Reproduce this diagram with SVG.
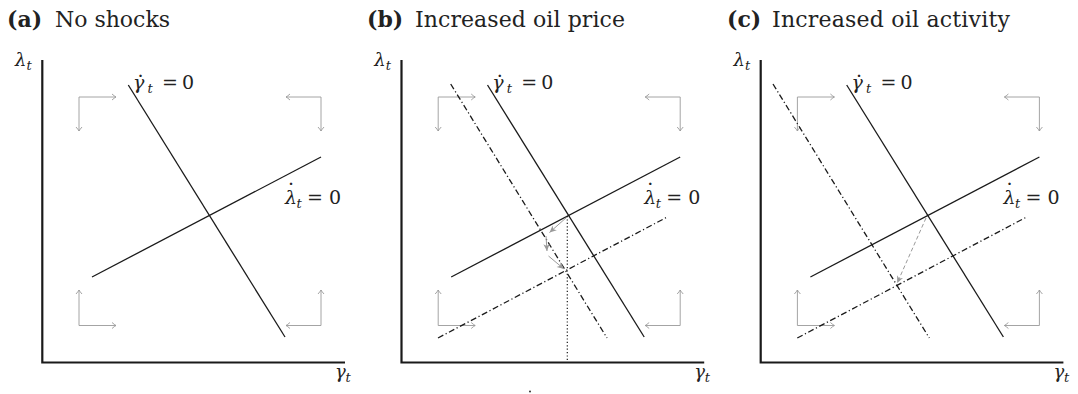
<svg xmlns="http://www.w3.org/2000/svg" width="1078" height="394" viewBox="0 0 1078 394">
<style>
text{fill:#222}
.title{font-size:22px}
.bold{font-weight:bold}
.m{font-size:19px}
.mi{font-size:19px;font-style:italic}
.sub{font-size:13px;font-style:italic}
.ax{font-size:18px;font-style:italic}
.axis{fill:none;stroke:#1a1a1a;stroke-width:2.2}
.curve{fill:none;stroke:#1a1a1a;stroke-width:1.3}
.dd{fill:none;stroke:#1a1a1a;stroke-width:1.3;stroke-dasharray:6 2.6 1.2 2.6}
.dot{fill:none;stroke:#1a1a1a;stroke-width:1.2;stroke-dasharray:1.2 2.2}
.ga{fill:none;stroke:#9a9a9a;stroke-width:0.9;marker-end:url(#to)}
.tr{fill:none;stroke:#9a9a9a;stroke-width:1;marker-end:url(#stealth)}
.trd{fill:none;stroke:#9a9a9a;stroke-width:1;stroke-dasharray:4 2.5;marker-end:url(#stealth)}
</style>
<defs>
<marker id="to" viewBox="-5 -4 6 8" refX="0" refY="0" markerWidth="6" markerHeight="8" orient="auto" markerUnits="userSpaceOnUse">
<path d="M-4,-3 Q-1.5,-0.8 0,0 Q-1.5,0.8 -4,3" fill="none" stroke="#9a9a9a" stroke-width="0.9"/>
</marker>
<marker id="stealth" viewBox="-8 -4 9 8" refX="0" refY="0" markerWidth="9" markerHeight="8" orient="auto" markerUnits="userSpaceOnUse">
<path d="M0,0 L-7,-3.2 L-5,0 L-7,3.2 Z" fill="#9a9a9a"/>
</marker>
<g id="base">
<polyline class="axis" points="42.3,60 42.3,362.5 345,362.5"/>
<line class="ga" x1="79" y1="97" x2="116" y2="97"/>
<line class="ga" x1="79" y1="97" x2="79" y2="131"/>
<line class="ga" x1="321" y1="97" x2="286" y2="97"/>
<line class="ga" x1="321" y1="97" x2="321" y2="131"/>
<line class="ga" x1="79" y1="325.5" x2="79" y2="290"/>
<line class="ga" x1="79" y1="325.5" x2="116" y2="325.5"/>
<line class="ga" x1="321" y1="325.5" x2="321" y2="290"/>
<line class="ga" x1="321" y1="325.5" x2="286" y2="325.5"/>
<line class="curve" x1="128.3" y1="85" x2="285" y2="337"/>
<line class="curve" x1="92" y1="277" x2="321" y2="157"/>
<text class="ax" x="15" y="66" font-family="DejaVu Serif, serif">λ</text><text class="sub" x="26.5" y="70" font-family="DejaVu Serif, serif">t</text>
<text class="ax" x="335" y="378" font-family="DejaVu Serif, serif">γ</text><text class="sub" x="345.5" y="382" font-family="DejaVu Serif, serif">t</text>
<text class="mi" x="133" y="89" font-family="DejaVu Serif, serif">γ</text><text class="m" x="137.5" y="77" font-family="DejaVu Serif, serif">.</text><text class="sub" x="147.5" y="93" font-family="DejaVu Serif, serif">t</text>
<text class="m" x="162" y="89" font-family="DejaVu Serif, serif">=</text><text class="m" x="182" y="89" font-family="DejaVu Serif, serif">0</text>
<text class="mi" x="285" y="204" font-family="DejaVu Serif, serif">λ</text><text class="m" x="288" y="185" font-family="DejaVu Serif, serif">.</text><text class="sub" x="296.5" y="208" font-family="DejaVu Serif, serif">t</text>
<text class="m" x="307" y="204" font-family="DejaVu Serif, serif">=</text><text class="m" x="329" y="204" font-family="DejaVu Serif, serif">0</text>
</g>
</defs>

<g id="panel-a">
<text class="title bold" x="7" y="27" font-family="DejaVu Serif, serif">(a)</text>
<text class="title" x="55" y="27" textLength="115" lengthAdjust="spacing" font-family="DejaVu Serif, serif">No shocks</text>
<use href="#base"/>
</g>

<g id="panel-b" transform="translate(359.2,0)">
<text class="title bold" x="7.8" y="27" font-family="DejaVu Serif, serif">(b)</text>
<text class="title" x="55.8" y="27" textLength="210" lengthAdjust="spacing" font-family="DejaVu Serif, serif">Increased oil price</text>
<use href="#base"/>
<g id="connectors-b">
<line class="dd" x1="91.5" y1="84" x2="247.8" y2="338"/>
<line class="dd" x1="78.8" y1="338" x2="308.1" y2="217"/>
<line class="dot" x1="208.1" y1="216" x2="208.1" y2="362"/>
<line class="tr" x1="207.8" y1="217" x2="190.3" y2="232.5"/>
<line class="tr" x1="186.8" y1="236" x2="187.8" y2="251"/>
<line class="tr" x1="189.3" y1="256" x2="204.8" y2="269"/>
</g>
<circle cx="170.8" cy="391.5" r="0.9" fill="#1a1a1a"/>
</g>

<g id="panel-c" transform="translate(718.4,0)">
<text class="title bold" x="8.6" y="27" font-family="DejaVu Serif, serif">(c)</text>
<text class="title" x="53.6" y="27" textLength="238" lengthAdjust="spacing" font-family="DejaVu Serif, serif">Increased oil activity</text>
<use href="#base"/>
<g id="connectors-c">
<line class="dd" x1="54.6" y1="84" x2="210.9" y2="338"/>
<line class="dd" x1="78.9" y1="338" x2="308.3" y2="217"/>
<line class="trd" x1="207.6" y1="218" x2="178.8" y2="283"/>
</g>
</g>
</svg>
